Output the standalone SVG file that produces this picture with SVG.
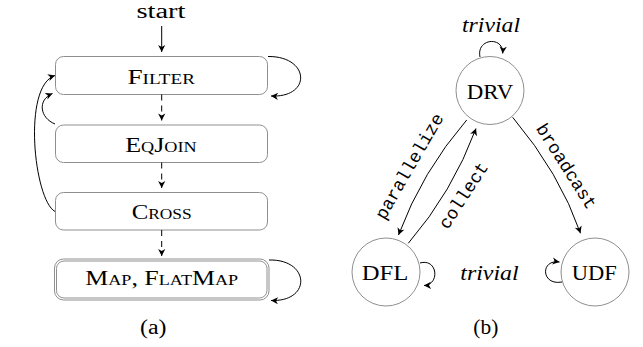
<svg xmlns="http://www.w3.org/2000/svg" width="643" height="347" viewBox="0 0 643 347">
<style>
.box{fill:#fff;stroke:#8f8f8f;stroke-width:1}
.circ{fill:#fff;stroke:#8f8f8f;stroke-width:1}
.e{fill:none;stroke:#000;stroke-width:1}
.d{stroke-dasharray:6,5}
.t{font-family:"Liberation Serif","DejaVu Serif","Times New Roman",serif;fill:#000;text-anchor:middle}
.sc{font-size:20px;font-variant:small-caps}
.n{font-size:22px}
.it{font-style:italic;font-size:21px}
.m{font-family:"Liberation Mono","DejaVu Sans Mono",monospace;font-size:18px;text-anchor:middle;fill:#000}
</style>
<defs>
<marker id="ah" viewBox="-8 -5 10 10" markerWidth="10" markerHeight="10" refX="0" refY="0" orient="auto" markerUnits="userSpaceOnUse">
<path d="M0,0 L-7,-3.6 L-5,0 L-7,3.6 Z" fill="#000"/>
</marker>
</defs>
<text class="t" x="161" y="18" font-size="20" textLength="49" lengthAdjust="spacingAndGlyphs">start</text>
<g id="filter"><rect class="box" x="55.5" y="56.5" width="212" height="38" rx="8"/><text class="t sc" x="161.2" y="83.5" textLength="67.5" lengthAdjust="spacingAndGlyphs">Filter</text></g>
<g id="eqjoin"><rect class="box" x="55.5" y="125" width="212" height="37.5" rx="8"/><text class="t sc" x="160.9" y="151.5" textLength="71.5" lengthAdjust="spacingAndGlyphs">EqJoin</text></g>
<g id="cross"><rect class="box" x="55.5" y="192.5" width="212" height="37.5" rx="8"/><text class="t sc" x="161.7" y="219" textLength="60" lengthAdjust="spacingAndGlyphs">Cross</text></g>
<g id="map"><rect class="box" x="54.5" y="259" width="214.5" height="41" rx="9"/><rect class="box" x="56.5" y="261" width="210.5" height="37" rx="7.5"/><text class="t sc" x="161.7" y="284.5" textLength="153" lengthAdjust="spacingAndGlyphs">Map, FlatMap</text></g>
<text class="t" x="153.3" y="334" font-size="20" textLength="26.5" lengthAdjust="spacingAndGlyphs">(a)</text>
<g id="drv"><circle class="circ" cx="490" cy="90.5" r="34"/><text class="t n" x="490" y="98.5" textLength="46.5" lengthAdjust="spacingAndGlyphs">DRV</text></g>
<g id="dfl"><circle class="circ" cx="386" cy="272" r="34"/><text class="t n" x="385" y="279.5" textLength="46.5" lengthAdjust="spacingAndGlyphs">DFL</text></g>
<g id="udf"><circle class="circ" cx="595" cy="272" r="34"/><text class="t n" x="594.2" y="279.5" textLength="45" lengthAdjust="spacingAndGlyphs">UDF</text></g>
<text class="t it" x="491" y="32" textLength="58" lengthAdjust="spacingAndGlyphs">trivial</text>
<text class="t it" x="489.5" y="279.5" textLength="58.5" lengthAdjust="spacingAndGlyphs">trivial</text>
<text class="t" x="485.8" y="334" font-size="20" textLength="25" lengthAdjust="spacingAndGlyphs">(b)</text>
<g id="connectors">
<line class="e" x1="161.7" y1="26" x2="161.7" y2="52" marker-end="url(#ah)"/>
<line class="e d" x1="161.7" y1="94.5" x2="161.7" y2="120.5" marker-end="url(#ah)"/>
<line class="e d" x1="161.7" y1="162.5" x2="161.7" y2="188" marker-end="url(#ah)"/>
<line class="e d" x1="161.7" y1="230" x2="161.7" y2="256" marker-end="url(#ah)"/>
<path class="e" d="M268,56.5 C310,56 312,98 271,96" marker-end="url(#ah)"/>
<path class="e" d="M269,260 C310,259 312,302 271,300.5" marker-end="url(#ah)"/>
<path class="e" d="M55,211.5 C34,200 22,86 55,75.5" marker-end="url(#ah)"/>
<path class="e" d="M55,124 C40,118 37,100 52.5,93.5" marker-end="url(#ah)"/>
<path class="e" d="M480,57 C476,38 504,36 502.7,53.5" marker-end="url(#ah)"/>
<path class="e" d="M420,263 C438,258 440,285 424,285.5" marker-end="url(#ah)"/>
<path class="e" d="M562,282 C541,286 540,259 559.5,262" marker-end="url(#ah)"/>
<path class="e" d="M466.7,120 Q422.2,171.4 398.5,235" marker-end="url(#ah)"/>
<path class="e" d="M408.3,243.3 Q452.5,191.9 476,128.5" marker-end="url(#ah)"/>
<path class="e" d="M512.7,117.3 Q559.7,173.2 580.5,233.3" marker-end="url(#ah)"/>
<text class="m" transform="translate(410,166.7) rotate(-60)" y="5">parallelize</text>
<text class="m" transform="translate(464.2,195.8) rotate(-57)" y="5">collect</text>
<text class="m" transform="translate(565.8,166.7) rotate(57.6)" y="5">broadcast</text>
</g>
</svg>
